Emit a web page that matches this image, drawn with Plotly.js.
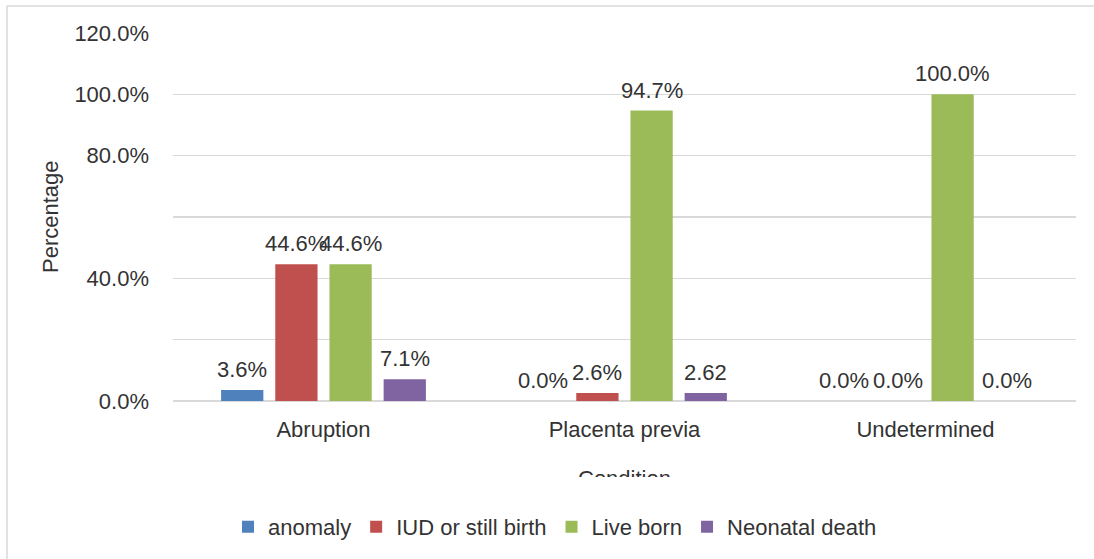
<!DOCTYPE html>
<html>
<head>
<meta charset="utf-8">
<script src="https://cdn.plot.ly/plotly-3.0.1.min.js"></script>
<style>html,body{margin:0;padding:0;background:#fff;}#chart{width:1094px;height:559px;}</style>
</head>
<body>
<div id="chart"></div>
<script>
const categories = ["Abruption", "Placenta previa", "Undetermined"];
const seriesNames = ["anomaly", "IUD or still birth", "Live born", "Neonatal death"];
const anomaly = [3.6, 0.0, 0.0];
const iudStillBirth = [44.6, 2.6, 0.0];
const liveBorn = [44.6, 94.7, 100.0];
const neonatalDeath = [7.1, 2.62, 0.0];
const anomalyLabels = ["3.6%", "0.0%", "0.0%"];
const iudLabels = ["44.6%", "2.6%", "0.0%"];
const liveBornLabels = ["44.6%", "94.7%", "100.0%"];
const neonatalLabels = ["7.1%", "2.62", "0.0%"];
const yTickVals = [0, 20, 40, 60, 80, 100, 120];
const yTickText = ["0.0%", "", "40.0%", "", "80.0%", "100.0%", "120.0%"];
const xTitle = "Condition";
const yTitle = "Percentage";

const colors = ["#4f81bd", "#c0504d", "#9bbb59", "#8064a2"];
const seriesValues = [anomaly, iudStillBirth, liveBorn, neonatalDeath];
const seriesLabels = [anomalyLabels, iudLabels, liveBornLabels, neonatalLabels];
const FONT = "Liberation Sans, Arial, sans-serif";
const FS = 22;
const TXT = "#333333";

const traces = seriesValues.map((vals, i) => ({
  type: "bar",
  name: seriesNames[i],
  x: categories,
  y: vals,
  marker: {color: colors[i], line: {width: 0}},
  hoverinfo: "skip"
}));

const bargap = 0.28;
const slot = (1 - bargap) / seriesValues.length;
const annotations = [];
seriesValues.forEach((vals, i) => {
  vals.forEach((v, j) => {
    annotations.push({
      x: j + (i - (seriesValues.length - 1) / 2) * slot,
      y: v,
      xref: "x", yref: "y",
      text: seriesLabels[i][j],
      showarrow: false,
      yanchor: "bottom",
      yshift: 6,
      font: {family: FONT, size: FS, color: TXT}
    });
  });
});
annotations.push({
  xref: "paper", yref: "paper", x: (50 - 173) / 903, y: 0.5,
  xanchor: "center", yanchor: "middle",
  text: yTitle, textangle: -90, showarrow: false,
  font: {family: FONT, size: FS, color: TXT}
});
annotations.push({
  xref: "paper", yref: "paper", x: 0.5, y: -0.172,
  xanchor: "center", yanchor: "top",
  text: xTitle, showarrow: false,
  height: 11, valign: "top",
  font: {family: FONT, size: FS, color: TXT}
});

const layout = {
  width: 1094, height: 559,
  margin: {l: 173, r: 18, t: 33, b: 158, autoexpand: false},
  paper_bgcolor: "#ffffff", plot_bgcolor: "#ffffff",
  font: {family: FONT, size: FS, color: TXT},
  barmode: "group",
  bargap: bargap,
  bargroupgap: 0.22,
  showlegend: true,
  legend: {
    orientation: "h", xref: "paper", x: (555 - 173) / 903, xanchor: "center",
    y: -0.342, yanchor: "middle",
    font: {family: FONT, size: FS, color: TXT},
    itemclick: false
  },
  xaxis: {
    type: "category",
    showgrid: false, showline: false, zeroline: false,
    ticks: "", ticklabelstandoff: 13, tickangle: 0, automargin: false,
    tickfont: {family: FONT, size: FS, color: TXT},
    fixedrange: true
  },
  yaxis: {
    range: [0, 120],
    tickvals: yTickVals, ticktext: yTickText,
    showgrid: true, gridcolor: "#d9d9d9", gridwidth: 1.5,
    zeroline: true, zerolinecolor: "#d9d9d9", zerolinewidth: 1.5,
    showline: false, ticks: "", ticklabelstandoff: 23, automargin: false,
    tickfont: {family: FONT, size: FS, color: TXT},
    fixedrange: true
  },
  annotations: annotations,
  shapes: [
    {type: "line", xref: "paper", yref: "paper", x0: (7 - 173) / 903, x1: (1100 - 173) / 903, y0: (401 - 6) / 368, y1: (401 - 6) / 368, line: {color: "#d9d9d9", width: 1.5}},
    {type: "line", xref: "paper", yref: "paper", x0: (7 - 173) / 903, x1: (7 - 173) / 903, y0: (401 - 6) / 368, y1: (401 - 565) / 368, line: {color: "#d9d9d9", width: 1.5}}
  ]
};

Plotly.newPlot("chart", traces, layout, {displayModeBar: false, staticPlot: true});
</script>
</body>
</html>
